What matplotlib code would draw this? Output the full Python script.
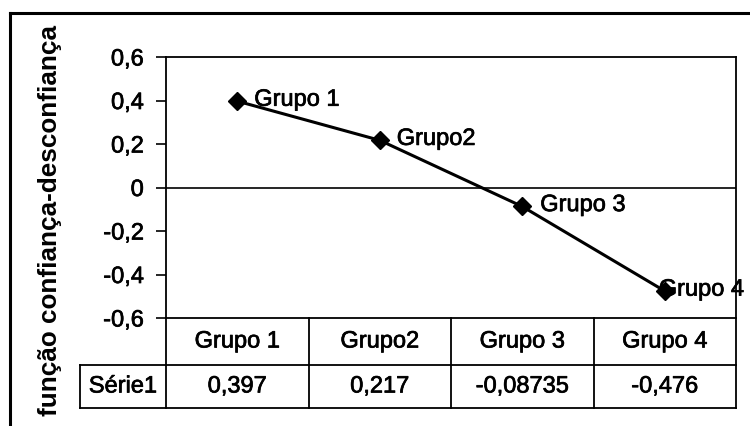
import matplotlib
matplotlib.use("Agg")
import matplotlib.pyplot as plt
from matplotlib.ticker import FuncFormatter, FixedLocator
from matplotlib.lines import Line2D
import matplotlib.transforms as mtransforms
import matplotlib.patheffects as pe

categories = ["Grupo 1", "Grupo2", "Grupo 3", "Grupo 4"]
values = [0.397, 0.217, -0.08735, -0.476]
series_name = "Série1"
y_ticks = [0.6, 0.4, 0.2, 0.0, -0.2, -0.4, -0.6]
y_label = "função confiança-desconfiança"

FONT = "Liberation Sans"
plt.rcParams['font.family'] = [FONT, 'DejaVu Sans']
FS = 17
heavy = [pe.withStroke(linewidth=0.5, foreground="black")]

W, H = 750, 426
fig = plt.figure(figsize=(W / 100, H / 100), dpi=100)
fig.patch.set_facecolor("white")

pl, pr, pt, pb = 166, 736, 57, 318
ax = fig.add_axes([pl / W, 1 - pb / H, (pr - pl) / W, (pb - pt) / H])
x = list(range(len(categories)))
ax.set_xlim(-0.5, len(categories) - 0.5)
ax.set_ylim(-0.6, 0.6)

ax.plot(x, values, color="black", lw=2.2, marker="D", ms=9.5, mfc="black", mec="black", zorder=5, clip_on=False)
ax.axhline(0, color="black", lw=1.2)

for s in ax.spines.values():
    s.set_linewidth(1.3)
    s.set_color("black")

ax.yaxis.set_major_locator(FixedLocator(y_ticks))
def fmt(v, pos):
    if abs(v) < 1e-9:
        return "0"
    return f"{v:.1f}".replace(".", ",")
ax.yaxis.set_major_formatter(FuncFormatter(fmt))
ax.tick_params(axis="y", direction="out", length=7, width=1.2, labelsize=FS, pad=9)
ax.set_xticks([])
for t in ax.get_yticklabels():
    t.set_path_effects(heavy)

# data labels (offsets in pixels)
offsets = [17, 17, 18, -6]
for xi, v, lab, off in zip(x, values, categories, offsets):
    ax.annotate(lab, (xi, v), xytext=(off * 0.72, 1), textcoords="offset points",
                ha="left", va="center", fontsize=FS, zorder=6, annotation_clip=False,
                path_effects=heavy)

# data table
tr = mtransforms.blended_transform_factory(ax.transData, ax.transAxes)
ph = pb - pt
r1 = -(365 - pb) / ph
r2 = -(408 - pb) / ph
left_cell = -0.5 - (pl - 80) / ((pr - pl) / len(categories))
lkw = dict(color="black", lw=1.3, transform=tr, clip_on=False)
for i in range(len(categories) + 1):
    ax.add_line(Line2D([i - 0.5, i - 0.5], [0, r2], **lkw))
ax.add_line(Line2D([left_cell, len(categories) - 0.5], [r1, r1], **lkw))
ax.add_line(Line2D([left_cell, len(categories) - 0.5], [r2, r2], **lkw))
ax.add_line(Line2D([left_cell, left_cell], [r1, r2], **lkw))
for xi, lab, v in zip(x, categories, values):
    ax.text(xi, r1 / 2, lab, transform=tr, ha="center", va="center", fontsize=FS, path_effects=heavy)
    ax.text(xi, (r1 + r2) / 2, str(v).replace(".", ","), transform=tr, ha="center", va="center",
            fontsize=FS, path_effects=heavy)
ax.text((left_cell - 0.5) / 2, (r1 + r2) / 2, series_name, transform=tr, ha="center", va="center",
        fontsize=FS, path_effects=heavy)

# axis title
fig.text(50 / W, 1 - 220 / H, y_label, rotation=90, ha="center", va="center",
         fontsize=18.8, fontweight="bold")

# outer frame
fig.add_artist(Line2D([10 / W, 1], [1 - 13 / H, 1 - 13 / H], color="black", lw=2.2, transform=fig.transFigure))
fig.add_artist(Line2D([10 / W, 10 / W], [0, 1 - 13 / H], color="black", lw=2.2, transform=fig.transFigure))

fig.savefig("out.png", dpi=100)
